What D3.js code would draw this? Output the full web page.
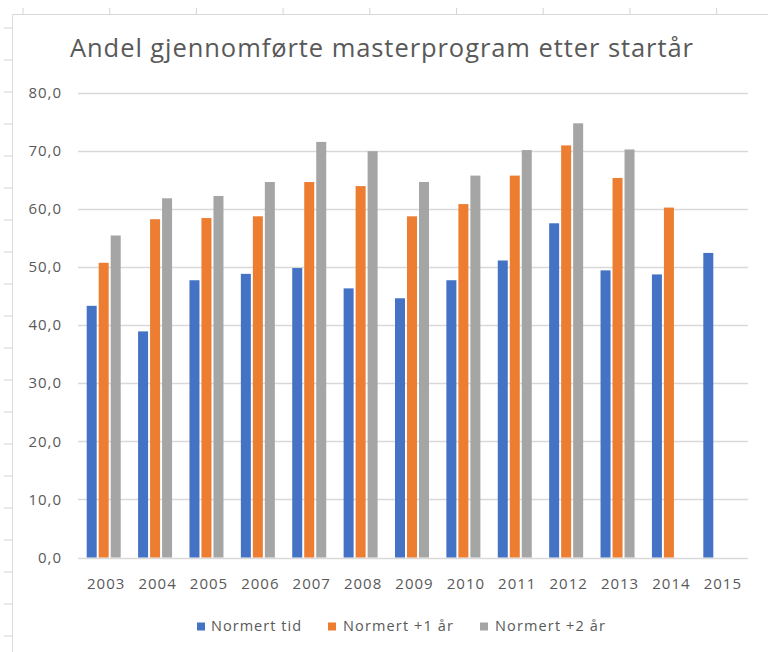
<!DOCTYPE html>
<html>
<head>
<meta charset="utf-8">
<script src="https://cdn.jsdelivr.net/npm/d3@7"></script>
<style>
  body { margin: 0; background: #fff; }
  svg { display: block; font-family: "Open Sans", "Noto Sans", sans-serif; }
</style>
</head>
<body>
<div id="root"></div>
<script>
const years = ["2003","2004","2005","2006","2007","2008","2009","2010","2011","2012","2013","2014","2015"];
const seriesNames = ["Normert tid", "Normert +1 år", "Normert +2 år"];
const normertTid = [43.3, 38.9, 47.7, 48.8, 49.8, 46.3, 44.6, 47.7, 51.1, 57.5, 49.4, 48.7, 52.4];
const normertPluss1 = [50.7, 58.2, 58.4, 58.7, 64.6, 63.9, 58.7, 60.8, 65.7, 70.9, 65.3, 60.2, null];
const normertPluss2 = [55.4, 61.8, 62.2, 64.6, 71.5, 69.9, 64.6, 65.7, 70.1, 74.7, 70.2, null, null];
const yTicks = [0, 10, 20, 30, 40, 50, 60, 70, 80];
const colors = ["#4472C4", "#ED7D31", "#A5A5A5"];

const width = 768, height = 652;
const svg = d3.select("#root").append("svg")
    .attr("width", width)
    .attr("height", height);

// spreadsheet cells peeking out behind the chart
const sheet = svg.append("g").attr("stroke", "#d4d4d4").attr("stroke-width", 1);
sheet.selectAll("line.col")
    .data(d3.range(23, width, 86.7))
    .enter().append("line")
    .attr("x1", d => d).attr("x2", d => d)
    .attr("y1", 8).attr("y2", 14);
sheet.selectAll("line.row")
    .data(d3.range(28, height, 32))
    .enter().append("line")
    .attr("x1", 4).attr("x2", 12)
    .attr("y1", d => d).attr("y2", d => d);
svg.append("path")
    .attr("d", `M12.5,${height}V14.5H${width}`)
    .attr("fill", "none")
    .attr("stroke", "#d9d9d9");

const rows = years.map((y, i) => ({
    year: y,
    values: [normertTid[i], normertPluss1[i], normertPluss2[i]]
}));

const x = d3.scaleBand().domain(years).range([80, 748]);
const xs = d3.scaleBand().domain(seriesNames).range([0, 36]);
const y = d3.scaleLinear().domain([0, 80]).range([557.5, 92.5]);

// gridlines
svg.append("g")
    .selectAll("line")
    .data(yTicks)
    .enter().append("line")
    .attr("x1", 78).attr("x2", 748)
    .attr("y1", d => Math.round(y(d)) + 0.5)
    .attr("y2", d => Math.round(y(d)) + 0.5)
    .attr("stroke", "#d9d9d9")
    .attr("stroke-width", 1.3);

// y axis labels
const yAxis = d3.axisLeft(y)
    .tickValues(yTicks)
    .tickFormat(d => d3.format(".1f")(d).replace(".", ","))
    .tickSize(0)
    .tickPadding(0);
svg.append("g")
    .attr("transform", "translate(62,0)")
    .call(yAxis)
    .call(g => g.select(".domain").remove())
    .call(g => g.selectAll("text")
        .attr("fill", "#595959")
        .attr("font-size", 15)
        .attr("letter-spacing", 1)
        .attr("font-family", "Open Sans, sans-serif"));

// bars
const groups = svg.append("g").selectAll("g")
    .data(rows)
    .enter().append("g")
    .attr("transform", d => `translate(${x(d.year) + (x.bandwidth() - 36) / 2 - 1},0)`);

groups.selectAll("rect")
    .data(d => d.values.map((v, i) => ({ name: seriesNames[i], value: v, i: i })).filter(d => d.value != null))
    .enter().append("rect")
    .attr("x", d => xs(d.name))
    .attr("width", xs.bandwidth() - 2)
    .attr("y", d => y(d.value))
    .attr("height", d => y(0) - y(d.value))
    .attr("fill", d => colors[d.i]);

// x axis
const xAxis = d3.axisBottom(x).tickSize(0).tickPadding(0);
svg.append("g")
    .attr("transform", `translate(0.5,${Math.round(y(0)) + 20})`)
    .call(xAxis)
    .call(g => g.select(".domain").remove())
    .call(g => g.selectAll("text")
        .attr("fill", "#595959")
        .attr("font-size", 15)
        .attr("letter-spacing", 1)
        .attr("font-family", "Open Sans, sans-serif"));

// title
svg.append("text")
    .attr("x", 70)
    .attr("y", 57)
    .attr("fill", "#595959")
    .attr("font-size", 25.5)
    .attr("textLength", 623)
    .attr("lengthAdjust", "spacing")
    .text("Andel gjennomførte masterprogram etter startår");

// legend
const legendX = [197, 328, 480];
const legendW = [90, 110, 110];
const legend = svg.append("g").selectAll("g")
    .data(seriesNames)
    .enter().append("g")
    .attr("transform", (d, i) => `translate(${legendX[i]},626)`);
legend.append("rect")
    .attr("x", 0).attr("y", -3.5)
    .attr("width", 8).attr("height", 8)
    .attr("fill", (d, i) => colors[i]);
legend.append("text")
    .attr("x", (d, i) => i === 0 ? 14 : 15)
    .attr("y", 4.5)
    .attr("fill", "#595959")
    .attr("font-size", 14.5)
    .attr("textLength", (d, i) => legendW[i])
    .attr("lengthAdjust", "spacing")
    .text(d => d);
</script>
</body>
</html>
